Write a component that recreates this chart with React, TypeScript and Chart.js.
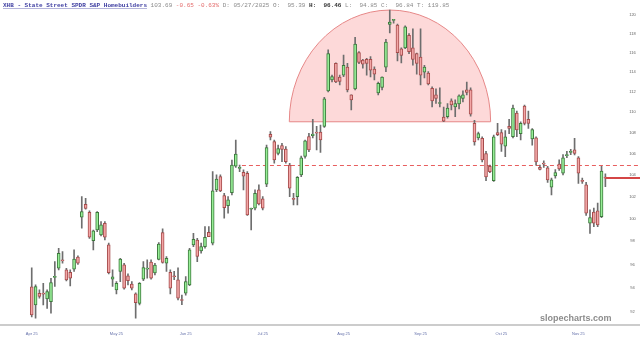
import React, { useEffect, useRef } from "react";
import { Chart, registerables } from "chart.js";

Chart.register(...registerables);

// ---- data (XHB daily candles) ----
const opens = [
  94.1, 92.59, 93.55, 93.5, 93.08, 92.86, 94.9, 95.68, 96.35, 95.53,
  95.33, 95.6, 96.62, 100.13, 101.3, 100.58, 98.05, 99.0, 98.56, 99.6,
  97.69, 94.74, 93.84, 95.39, 95.96, 95.02, 94.32, 93.5, 92.72, 94.74,
  95.6, 96.2, 95.27, 96.42, 98.77, 96.1, 95.33, 95.0, 94.68, 93.0,
  93.56, 94.26, 97.69, 98.12, 97.16, 97.54, 98.8, 97.84, 102.61, 103.84,
  102.09, 101.18, 102.36, 104.8, 104.6, 104.24, 104.15, 100.85, 100.94, 102.61,
  101.79, 103.13, 107.84, 107.13, 106.0, 106.75, 106.43, 104.92, 101.8, 102.0,
  103.99, 105.72, 107.61, 107.7, 108.0, 108.05, 108.6, 112.1, 113.2, 114.9,
  113.5, 113.7, 114.5, 111.7, 112.3, 116.0, 115.24, 115.3, 115.3, 114.3,
  111.9, 112.45, 114.5, 118.95, 119.4, 118.9, 116.4, 116.5, 117.8, 116.5,
  115.9, 115.55, 114.0, 113.9, 112.35, 111.7, 110.85, 109.5, 109.55, 111.1,
  110.5, 110.8, 111.35, 112.2, 112.2, 108.9, 107.5, 107.45, 106.0, 104.8,
  103.46, 108.0, 108.0, 106.7, 108.6, 107.6, 109.9, 107.9, 110.6, 109.3,
  107.4, 107.5, 104.7, 105.05, 104.65, 102.85, 103.9, 105.0, 104.15, 105.8,
  106.1, 106.34, 105.6, 103.45, 103.07, 99.6, 100.6, 100.7, 100.18, 103.75,
];
const highs = [
  95.7, 94.26, 93.84, 94.4, 93.84, 94.82, 96.24, 97.4, 97.1, 95.67,
  95.53, 97.25, 96.73, 102.0, 101.85, 100.7, 99.0, 100.64, 99.74, 99.74,
  97.84, 95.53, 94.54, 96.53, 96.1, 95.19, 94.54, 93.6, 94.45, 96.24,
  96.39, 96.39, 96.1, 97.9, 99.1, 96.68, 95.53, 95.4, 95.7, 93.4,
  94.96, 97.4, 98.7, 98.27, 97.84, 99.3, 99.3, 104.3, 104.0, 104.0,
  102.3, 102.0, 105.39, 107.29, 104.92, 104.46, 104.3, 100.95, 102.61, 103.07,
  102.0, 106.81, 108.1, 107.29, 106.81, 106.97, 106.65, 105.08, 102.3, 103.84,
  105.76, 107.29, 107.93, 109.3, 108.6, 108.74, 111.46, 116.3, 113.7, 114.95,
  113.7, 115.75, 114.9, 111.7, 117.6, 116.1, 115.3, 115.4, 115.6, 114.55,
  113.0, 113.53, 117.4, 120.5, 119.5, 119.0, 116.5, 118.8, 118.0, 118.5,
  115.95, 118.5, 114.7, 114.05, 112.5, 112.3, 112.4, 110.5, 110.85, 111.3,
  111.2, 111.7, 112.1, 113.0, 112.4, 109.2, 108.05, 107.6, 106.2, 104.92,
  107.77, 108.9, 108.3, 108.2, 109.3, 110.7, 110.1, 109.05, 110.7, 110.1,
  108.4, 107.6, 104.9, 105.3, 104.8, 103.7, 104.5, 105.4, 105.9, 106.2,
  106.4, 107.45, 105.7, 103.7, 103.3, 100.8, 100.95, 101.4, 104.8, 104.1,
];
const lows = [
  91.6, 91.5, 93.15, 92.59, 92.3, 91.9, 94.12, 95.53, 96.1, 94.6,
  94.17, 95.4, 96.0, 99.16, 100.85, 98.26, 97.25, 98.86, 98.47, 98.12,
  95.19, 94.12, 93.5, 94.54, 93.9, 94.26, 93.84, 91.5, 92.59, 94.62,
  94.82, 94.74, 95.1, 96.39, 96.1, 95.39, 93.5, 94.7, 93.0, 92.6,
  93.4, 94.2, 97.54, 96.24, 96.96, 97.4, 98.41, 97.69, 102.45, 102.45,
  100.04, 100.5, 102.15, 104.7, 104.3, 102.6, 100.3, 99.0, 100.79, 101.24,
  100.79, 102.9, 107.29, 105.08, 105.86, 105.24, 105.08, 102.0, 101.24, 101.24,
  103.84, 105.55, 106.18, 107.5, 106.34, 106.1, 108.5, 112.0, 113.0, 112.93,
  112.7, 113.53, 112.0, 110.2, 112.2, 114.85, 114.4, 113.7, 113.5, 113.2,
  111.7, 112.2, 114.05, 118.05, 119.1, 115.15, 114.95, 116.4, 115.9, 114.7,
  113.8, 112.7, 113.4, 112.7, 110.5, 110.85, 110.5, 109.05, 109.4, 110.2,
  109.55, 110.3, 111.0, 111.7, 109.6, 106.8, 107.3, 105.2, 103.46, 104.2,
  103.38, 107.7, 106.2, 105.7, 107.9, 107.5, 107.6, 107.3, 108.74, 108.4,
  106.8, 104.9, 104.46, 104.7, 103.3, 102.15, 103.7, 104.4, 104.0, 105.6,
  105.9, 105.86, 103.2, 103.2, 100.3, 98.7, 99.3, 99.3, 100.1, 102.9,
];
const closes = [
  91.77, 94.12, 93.3, 93.48, 93.7, 94.45, 94.95, 96.96, 96.3, 94.68,
  94.82, 96.45, 96.1, 100.64, 100.93, 98.36, 98.92, 100.58, 99.45, 98.36,
  95.3, 94.93, 94.4, 96.45, 93.98, 94.62, 93.98, 92.78, 94.4, 95.73,
  95.63, 94.82, 95.94, 97.75, 96.16, 96.53, 93.98, 94.95, 93.14, 92.95,
  94.54, 97.25, 98.18, 96.68, 97.54, 98.36, 98.41, 102.52, 103.6, 102.52,
  101.0, 101.7, 104.92, 105.95, 104.65, 103.88, 100.34, 100.9, 102.3, 101.33,
  100.94, 106.56, 107.55, 105.39, 106.46, 106.4, 105.24, 102.76, 101.75, 103.76,
  105.6, 107.2, 106.34, 107.85, 107.95, 107.3, 111.3, 115.9, 113.55, 113.0,
  113.05, 114.7, 112.2, 111.2, 116.9, 115.0, 114.8, 114.9, 114.2, 113.8,
  112.85, 113.5, 117.1, 119.2, 119.45, 116.0, 115.7, 118.7, 116.1, 115.3,
  114.9, 113.7, 114.5, 112.8, 111.1, 111.35, 110.9, 109.1, 110.4, 110.7,
  110.85, 111.6, 111.7, 111.95, 109.8, 107.1, 107.9, 105.39, 103.8, 104.3,
  107.6, 107.8, 106.9, 107.6, 108.4, 110.4, 108.25, 108.9, 108.9, 108.9,
  108.3, 105.2, 104.5, 105.0, 103.53, 103.53, 104.2, 104.55, 105.6, 105.9,
  106.2, 106.0, 104.15, 103.4, 100.5, 100.1, 99.6, 99.45, 104.34, 103.69,
];

const monthLabels = ["Apr 25", "May 25", "Jun 25", "Jul 25", "Aug 25", "Sep 25", "Oct 25", "Nov 25"];
const monthStartIndex = [0, 22, 40, 60, 81, 101, 122, 142];
const yTickValues = [92, 94, 96, 98, 100, 102, 104, 106, 108, 110, 112, 114, 116, 118, 120];

const yMin = 90.94;
const yMax = 121.37;

const domeFromIndex = 66.9;
const domeToIndex = 119.2;
const domeBase = 109.05;
const domeTop = 120.5;

const dashedLevel = 104.92;
const dashedFromIndex = 54.6;
const lastPrice = 103.69;

const headerParts = [
  { text: "XHB - State Street SPDR S&P Homebuilders", color: "#3c3ca0", bold: true, underline: true },
  { text: " 103.69", color: "#8a8a8a", bold: false, underline: false },
  { text: " -0.65 -0.63%", color: "#e36a6a", bold: false, underline: false },
  { text: " D: 05/27/2025 O:  95.39 ", color: "#8a8a8a", bold: false, underline: false },
  { text: "H:  96.46", color: "#333333", bold: true, underline: false },
  { text: " L:  94.85 C:  96.84 T: 119.85", color: "#8a8a8a", bold: false, underline: false },
];
const watermark = "slopecharts.com";

const UP_FILL = "rgb(150,238,150)";
const UP_EDGE = "rgb(60,120,60)";
const DN_FILL = "rgb(243,166,166)";
const DN_EDGE = "rgb(165,75,75)";
const WICK = "rgb(110,110,110)";

export default function App() {
  const ref = useRef<HTMLCanvasElement>(null);

  useEffect(() => {
    const canvas = ref.current;
    if (!canvas) return;
    const up = opens.map((o, i) => closes[i] >= o);
    const labels = opens.map((_, i) => String(i));

    const overlay = {
      id: "overlay",
      beforeDatasetsDraw(chart: any) {
        const { ctx, scales } = chart;
        const x = scales.x;
        const y = scales.y;
        const x0 = x.getPixelForValue(domeFromIndex);
        const x1 = x.getPixelForValue(domeToIndex);
        const yb = y.getPixelForValue(domeBase);
        const yt = y.getPixelForValue(domeTop);
        ctx.save();
        ctx.beginPath();
        ctx.ellipse((x0 + x1) / 2, yb, (x1 - x0) / 2, yb - yt, 0, Math.PI, 2 * Math.PI);
        ctx.closePath();
        ctx.fillStyle = "rgba(250,160,160,0.40)";
        ctx.fill();
        ctx.strokeStyle = "rgb(230,135,135)";
        ctx.lineWidth = 1;
        ctx.stroke();

        const yd = Math.round(y.getPixelForValue(dashedLevel)) + 0.5;
        ctx.setLineDash([4, 3]);
        ctx.strokeStyle = "rgb(232,95,95)";
        ctx.lineWidth = 1;
        ctx.beginPath();
        ctx.moveTo(x.getPixelForValue(dashedFromIndex), yd);
        ctx.lineTo(chart.width, yd);
        ctx.stroke();
        ctx.restore();
      },
      afterDraw(chart: any) {
        const { ctx, scales } = chart;
        const x = scales.x;
        const y = scales.y;
        ctx.save();
        // last price line
        const yl = y.getPixelForValue(lastPrice);
        ctx.fillStyle = "rgb(212,70,70)";
        ctx.fillRect(x.getPixelForValue(opens.length - 1), Math.round(yl) - 1, chart.width, 2);

        // separator between plot and date axis
        ctx.fillStyle = "rgb(204,204,204)";
        ctx.fillRect(0, chart.chartArea.bottom - 1, chart.width, 2);

        // y-axis tick labels
        ctx.font = "4px 'Liberation Sans', Arial, sans-serif";
        ctx.fillStyle = "rgb(95,95,95)";
        ctx.textAlign = "center";
        ctx.textBaseline = "middle";
        for (const v of yTickValues) {
          ctx.fillText(String(v), chart.chartArea.right + 25.2, y.getPixelForValue(v));
        }

        // x-axis month labels
        ctx.fillStyle = "rgb(100,112,170)";
        monthStartIndex.forEach((idx, i) => {
          ctx.fillText(monthLabels[i], x.getPixelForValue(idx), chart.chartArea.bottom + 9);
        });

        // watermark
        ctx.font = "bold 9px 'Liberation Sans', Arial, sans-serif";
        ctx.fillStyle = "rgb(140,140,140)";
        ctx.textAlign = "left";
        ctx.textBaseline = "middle";
        ctx.fillText(watermark, 540, 319);

        // header
        let hx = 3;
        ctx.textBaseline = "alphabetic";
        for (const p of headerParts) {
          ctx.font = (p.bold ? "bold " : "") + "6px 'Liberation Mono', 'DejaVu Sans Mono', monospace";
          ctx.fillStyle = p.color;
          ctx.fillText(p.text, hx, 7);
          const w = ctx.measureText(p.text).width;
          if (p.underline) {
            ctx.fillStyle = "rgba(60,60,160,0.55)";
            ctx.fillRect(hx, 8, w, 0.7);
          }
          hx += w;
        }
        ctx.restore();
      },
    };

    const chart = new Chart(canvas, {
      type: "bar",
      data: {
        labels,
        datasets: [
          {
            label: "body",
            data: opens.map((o, i) => [o, closes[i]]) as any,
            backgroundColor: up.map((u) => (u ? UP_FILL : DN_FILL)),
            borderColor: up.map((u) => (u ? UP_EDGE : DN_EDGE)),
            borderWidth: 1,
            borderSkipped: false,
            barThickness: 3,
            minBarLength: 1,
            grouped: false,
            order: 0,
          },
          {
            label: "wick",
            data: lows.map((l, i) => [l, highs[i]]) as any,
            backgroundColor: WICK,
            borderWidth: 0,
            barThickness: 1,
            grouped: false,
            order: 1,
          },
        ],
      },
      options: {
        responsive: false,
        animation: false,
        devicePixelRatio: 1,
        layout: { padding: { left: 29.8, top: 2, right: 32.7, bottom: 14 } },
        plugins: { legend: { display: false }, tooltip: { enabled: false }, title: { display: false } },
        scales: {
          x: {
            type: "category",
            offset: true,
            display: false,
          },
          y: {
            type: "logarithmic",
            min: yMin,
            max: yMax,
            bounds: "data",
            display: false,
          },
        },
      } as any,
      plugins: [overlay],
    });

    return () => chart.destroy();
  }, []);

  return (
    <div style={{ position: "absolute", left: 0, top: 0, width: 640, height: 339, background: "#fff" }}>
      <canvas ref={ref} width={640} height={339} style={{ display: "block" }} />
    </div>
  );
}
